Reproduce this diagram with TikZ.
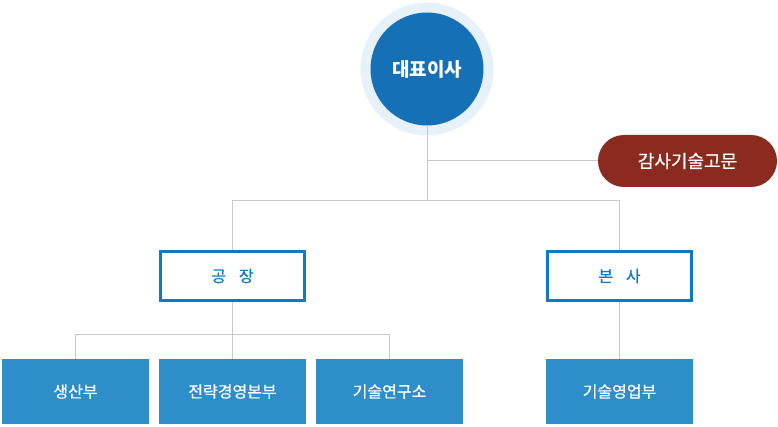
\documentclass[tikz,border=0pt]{standalone}
\usepackage{fontspec}
\setmainfont{Noto Sans CJK KR}
\newfontfamily\midfont[FakeBold=0.6]{Noto Sans CJK KR}
\usepackage{tikz}

\definecolor{ceoblue}{HTML}{1670B6}
\definecolor{ringblue}{HTML}{E6F1F9}
\definecolor{linegray}{HTML}{C8C8C8}
\definecolor{framblue}{HTML}{0A7BC4}
\definecolor{deptblue}{HTML}{2E8EC9}
\definecolor{advred}{HTML}{8B2B20}

\tikzset{
	link/.style = {draw=linegray, line width=1pt},
	branch/.style = {draw=framblue, line width=3pt, fill=white, minimum width=144pt, minimum height=49pt, inner sep=0pt, text=framblue, font=\midfont\fontsize{16}{18}\selectfont},
	dept/.style = {fill=deptblue, minimum width=147pt, minimum height=65pt, inner sep=0pt, text=white, font=\midfont\fontsize{16}{18}\selectfont}
}

\begin{document}
\begin{tikzpicture}[x=1pt, y=-1pt]
		\useasboundingbox (0,0) rectangle (778,427);
		% lines
		\coordinate (split) at (427,201);
		\coordinate (fsplit) at (233,334);
		% top
		\fill[ringblue] (427,69) circle(66.5);
		\node [circle, fill=ceoblue, minimum size=113pt, inner sep=0pt, text=white, font=\fontsize{19}{21}\selectfont\bfseries] (ceo) at (427,69) {대표이사};
		\node [rounded corners=26pt, fill=advred, minimum width=179pt, minimum height=52pt, inner sep=0pt, text=white, font=\midfont\fontsize{18}{20}\selectfont] (adv) at (687.5,161) {감사기술고문};
		\draw[link] (ceo.south) -- (split);
		\draw[link] (427,161) -- (adv.west);
		% branches
		\node [branch] (factory) at (232.5,276) {공\hspace{0.8em}장};
		\node [branch] (office) at (619.5,276) {본\hspace{0.8em}사};
		\draw[link] (split) -| (factory.north);
		\draw[link] (split) -| (office.north);
		% departments
		\node [dept] (prod) at (75.5,391.5) {생산부};
		\node [dept] (plan) at (232.5,391.5) {전략경영본부};
		\node [dept] (lab) at (389.5,391.5) {기술연구소};
		\node [dept] (sales) at (619.5,391.5) {기술영업부};
		\draw[link] (factory.south) -- (plan.north);
		\draw[link] (fsplit) -| (prod.north);
		\draw[link] (fsplit) -| (lab.north);
		\draw[link] (office.south) -- (sales.north);
\end{tikzpicture}
\end{document}
